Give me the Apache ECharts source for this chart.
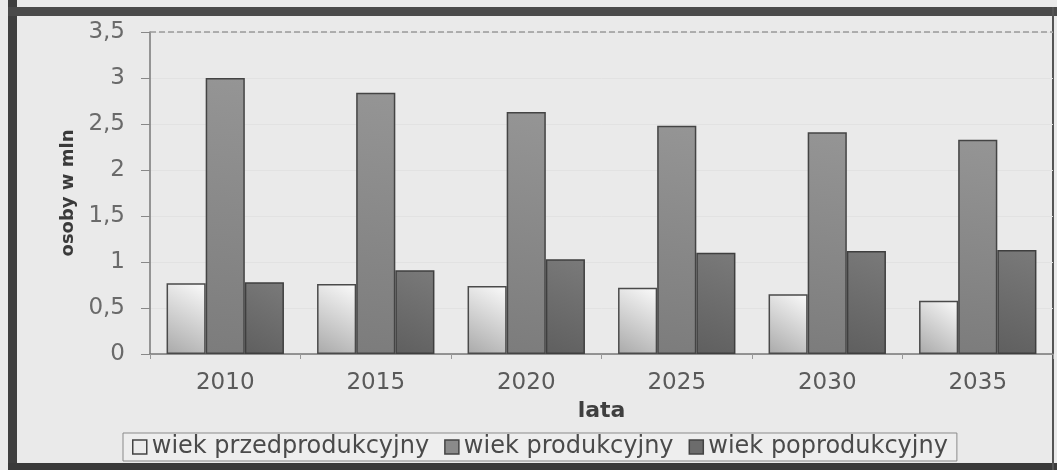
<!DOCTYPE html>
<html><head><meta charset="utf-8">
<script src="https://cdn.jsdelivr.net/npm/echarts@6/dist/echarts.min.js"></script>
<style>html,body{margin:0;padding:0;background:#ebebeb}#c{width:1057px;height:470px}</style>
</head><body><div id="c"></div>
<script>
const categories = ['2010','2015','2020','2025','2030','2035'];
const seriesNames = ['wiek przedprodukcyjny','wiek produkcyjny','wiek poprodukcyjny'];
const preValues = [0.77, 0.76, 0.74, 0.72, 0.65, 0.58];
const prodValues = [3.00, 2.84, 2.63, 2.48, 2.41, 2.33];
const postValues = [0.78, 0.91, 1.03, 1.10, 1.12, 1.13];
const yTickLabels = ['0','0,5','1','1,5','2','2,5','3','3,5'];

const font = "'DejaVu Sans', Verdana, sans-serif";
function grad(c1, c2) {
  return new echarts.graphic.LinearGradient(0, 1, 1, 0, [{offset:0,color:c1},{offset:1,color:c2}]);
}
const chart = echarts.init(document.getElementById('c'), null, {renderer:'canvas'});
chart.setOption({
  backgroundColor: '#eaeaea',
  animation: false,
  grid: {left: 150, right: 4, top: 32, bottom: 116, containLabel: false},
  legend: {
    left: 123, top: 433, itemGap: 15, itemWidth: 14, itemHeight: 14, padding: [2, 9, 2, 9],
    icon: 'rect',
    borderColor: '#8a8a8a', borderWidth: 1, backgroundColor: '#eeeeee',
    textStyle: {fontFamily: font, fontSize: 24, color: '#4a4a4a'},
    data: seriesNames.map((n, i) => ({name: n, itemStyle: {color: ['#ececec','#8a8a8a','#6c6c6c'][i], borderColor: '#444', borderWidth: 1.5}}))
  },
  xAxis: {
    type: 'category', data: categories,
    name: 'lata', nameLocation: 'middle', nameGap: 45,
    nameTextStyle: {fontFamily: font, fontSize: 22, fontWeight: 'bold', color: '#3f3f3f'},
    axisLine: {lineStyle: {color: '#777', width: 1.5}},
    axisTick: {show: true, length: 5, lineStyle: {color: '#999'}},
    axisLabel: {fontFamily: font, fontSize: 23, color: '#5a5a5a', margin: 18}
  },
  yAxis: {
    type: 'value', min: 0, max: 3.5, interval: 0.5,
    name: 'osoby w mln', nameLocation: 'middle', nameGap: 72, nameRotate: 90,
    nameTextStyle: {fontFamily: font, fontSize: 18, fontWeight: 'bold', color: '#3a3a3a'},
    axisLine: {show: true, lineStyle: {color: '#777', width: 1.5}},
    axisTick: {show: true, inside: false, length: 9, lineStyle: {color: '#888'}},
    axisLabel: {fontFamily: font, fontSize: 23, color: '#6a6a6a', margin: 25,
      formatter: (v) => yTickLabels[Math.round(v / 0.5)]},
    splitLine: {show: true, lineStyle: {color: '#e2e2e2', width: 1}}
  },
  series: [
    {name: seriesNames[0], type: 'bar', data: preValues, barGap: '0%', barCategoryGap: '22%',
     itemStyle: {color: grad('#a9a9a9', '#fbfbfb'), borderColor: '#4a4a4a', borderWidth: 1.5},
     markLine: {silent: true, symbol: 'none', label: {show: false},
       lineStyle: {color: '#9a9a9a', type: 'dashed', width: 1.5}, data: [{yAxis: 3.5}]}},
    {name: seriesNames[1], type: 'bar', data: prodValues, barGap: '0%', barCategoryGap: '22%',
     itemStyle: {color: grad('#7c7c7c', '#959595'), borderColor: '#444', borderWidth: 1.5}},
    {name: seriesNames[2], type: 'bar', data: postValues, barGap: '0%', barCategoryGap: '22%',
     itemStyle: {color: grad('#5f5f5f', '#7a7a7a'), borderColor: '#3f3f3f', borderWidth: 1.5}}
  ],
  graphic: [
    {type: 'rect', left: 8, top: 0, shape: {width: 9, height: 470}, style: {fill: '#3f3f3f'}, silent: true},
    {type: 'rect', left: 8, top: 7, shape: {width: 1049, height: 9}, style: {fill: '#4a4a4a'}, silent: true},
    {type: 'rect', left: 8, top: 463, shape: {width: 1049, height: 7}, style: {fill: '#3a3a3a'}, silent: true},
    {type: 'rect', left: 1052, top: 7, shape: {width: 2, height: 463}, style: {fill: '#555'}, silent: true}
  ]
});
</script></body></html>
